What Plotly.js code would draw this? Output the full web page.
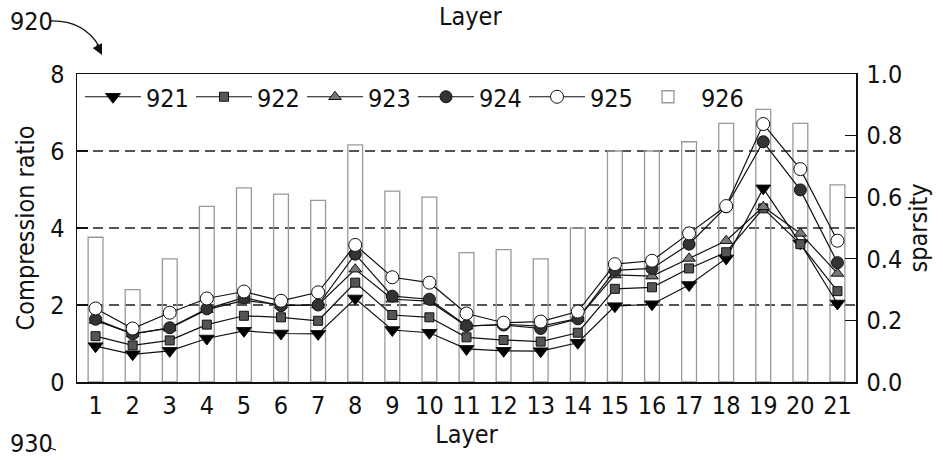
<!DOCTYPE html>
<html>
<head>
<meta charset="utf-8">
<script src="https://cdn.plot.ly/plotly-3.0.1.min.js"></script>
<style>html,body{margin:0;padding:0;background:#fff;}#chart{width:943px;height:460px;}</style>
</head>
<body>
<div id="chart"></div>
<script>
const layers = [1,2,3,4,5,6,7,8,9,10,11,12,13,14,15,16,17,18,19,20,21];
const s921 = [0.93,0.72,0.81,1.13,1.33,1.26,1.25,2.17,1.35,1.28,0.86,0.81,0.80,1.02,1.97,2.02,2.52,3.21,5.03,3.60,2.04];
const s922 = [1.19,0.95,1.08,1.49,1.72,1.68,1.59,2.58,1.74,1.68,1.16,1.09,1.05,1.28,2.42,2.46,2.95,3.37,4.51,3.58,2.36];
const s923 = [1.60,1.25,1.40,1.88,2.12,2.00,2.00,2.93,2.15,2.10,1.45,1.50,1.45,1.65,2.78,2.75,3.21,3.67,4.55,3.86,2.82];
const s924 = [1.63,1.25,1.41,1.90,2.19,1.98,2.00,3.32,2.23,2.15,1.46,1.48,1.39,1.64,2.90,2.95,3.58,4.55,6.24,4.99,3.10];
const s925 = [1.91,1.39,1.80,2.17,2.35,2.11,2.33,3.56,2.72,2.58,1.78,1.54,1.57,1.83,3.06,3.15,3.86,4.57,6.70,5.53,3.67];
const sparsity = [0.47,0.30,0.40,0.57,0.63,0.61,0.59,0.77,0.62,0.60,0.42,0.43,0.40,0.50,0.75,0.75,0.78,0.84,0.885,0.84,0.64];
const seriesNames = ['921','922','923','924','925','926'];
const leftTicks = [0,2,4,6,8];
const rightTicks = [0,0.2,0.4,0.6,0.8,1.0];

const FONT = "'Liberation Sans Narrow','Arial Narrow','DejaVu Sans Condensed','Noto Sans',sans-serif";

const lineStyle = {color:'#111', width:1.2};
function lineTrace(y, name, symbol, fill, size){
  return {x:layers, y:y, name:name, type:'scatter', mode:'lines+markers', yaxis:'y2',
    line:lineStyle,
    marker:{symbol:symbol, size:size, color:fill, line:{color:'#111', width:1}}};
}

const traces = [
  lineTrace(s921, seriesNames[0], 'triangle-down', '#000', 13),
  lineTrace(s922, seriesNames[1], 'square', '#555', 9),
  lineTrace(s923, seriesNames[2], 'triangle-up', '#777', 11),
  lineTrace(s924, seriesNames[3], 'circle', '#333', 12),
  lineTrace(s925, seriesNames[4], 'circle', '#fff', 13),
  {x:layers, y:sparsity, name:seriesNames[5], type:'bar', yaxis:'y', width:0.4,
   marker:{color:'rgba(255,255,255,0)', line:{color:'#999', width:1.3}}}
];

const L = 77, R = 856, T = 74, B = 382;
const W = 943, H = 460;
function px(x){ return (x - L)/(R - L); }
function py(y){ return (B - y)/(B - T); }

const layout = {
  width:W, height:H,
  margin:{l:L, r:W-R, t:T, b:H-B, pad:0},
  paper_bgcolor:'#fff', plot_bgcolor:'rgba(0,0,0,0)',
  font:{family:FONT, size:25, color:'#111'},
  showlegend:true,
  legend:{orientation:'h', x:px(80), y:1.0, xanchor:'left', yanchor:'top',
    font:{family:FONT, size:25, color:'#111'}, bgcolor:'rgba(0,0,0,0)',
    traceorder:'normal', entrywidth:40, entrywidthmode:'pixels', itemwidth:56},
  xaxis:{range:[0.5,21.5], tickmode:'array', tickvals:layers, ticktext:layers.map(String),
    showgrid:false, zeroline:false, showline:true, linecolor:'#111', linewidth:1.5, mirror:true,
    ticks:'', ticklabelstandoff:0,
    title:{text:'Layer', font:{family:FONT, size:25}, standoff:2}},
  yaxis:{side:'right', range:[0,1], tickmode:'array', tickvals:rightTicks,
    ticktext:rightTicks.map(v=>v.toFixed(1)),
    showgrid:false, zeroline:false, showline:true, linecolor:'#111', linewidth:1.5,
    ticks:'inside', ticklen:11, tickwidth:1.3, tickcolor:'#111', ticklabelstandoff:4,
    title:{text:'sparsity', font:{family:FONT, size:25}, standoff:8}},
  yaxis2:{side:'left', overlaying:'y', range:[0,8], tickmode:'array', tickvals:leftTicks,
    ticktext:leftTicks.map(String),
    showgrid:true, gridcolor:'#555', griddash:'10px,6px', gridwidth:1.4, zeroline:false,
    showline:true, linecolor:'#111', linewidth:1.5,
    ticks:'inside', ticklen:11, tickwidth:1.3, tickcolor:'#111', ticklabelstandoff:6,
    title:{text:'Compression ratio', font:{family:FONT, size:25}, standoff:8}},
  shapes:[
    {type:'path', xref:'paper', yref:'paper',
     path:'M '+px(50)+' '+py(21)+' Q '+px(83)+' '+py(20)+' '+px(99)+' '+py(46),
     line:{color:'#111', width:1.3}}
  ],
  annotations:[
    {text:'920', xref:'paper', yref:'paper', x:px(8), y:py(21), xanchor:'left', yanchor:'middle',
     showarrow:false, font:{family:FONT, size:25}},
    {text:'', xref:'paper', yref:'paper', x:px(102), y:py(55), ax:-6, ay:-12,
     showarrow:true, arrowhead:2, arrowsize:1.6, arrowwidth:1.3, arrowcolor:'#111'},
    {text:'Layer', xref:'paper', yref:'paper', x:0.505, y:py(0), xanchor:'center', yanchor:'top',
     showarrow:false, font:{family:FONT, size:25}},
    {text:'930', xref:'paper', yref:'paper', x:px(8), y:py(460), xanchor:'left', yanchor:'bottom',
     showarrow:false, font:{family:FONT, size:25}},
    {text:'', xref:'paper', yref:'paper', x:px(56), y:py(450), ax:-9, ay:-3,
     showarrow:true, arrowhead:0, arrowwidth:1.2, arrowcolor:'#111'}
  ]
};

Plotly.newPlot('chart', traces, layout, {displayModeBar:false, staticPlot:true});
</script>
</body>
</html>
